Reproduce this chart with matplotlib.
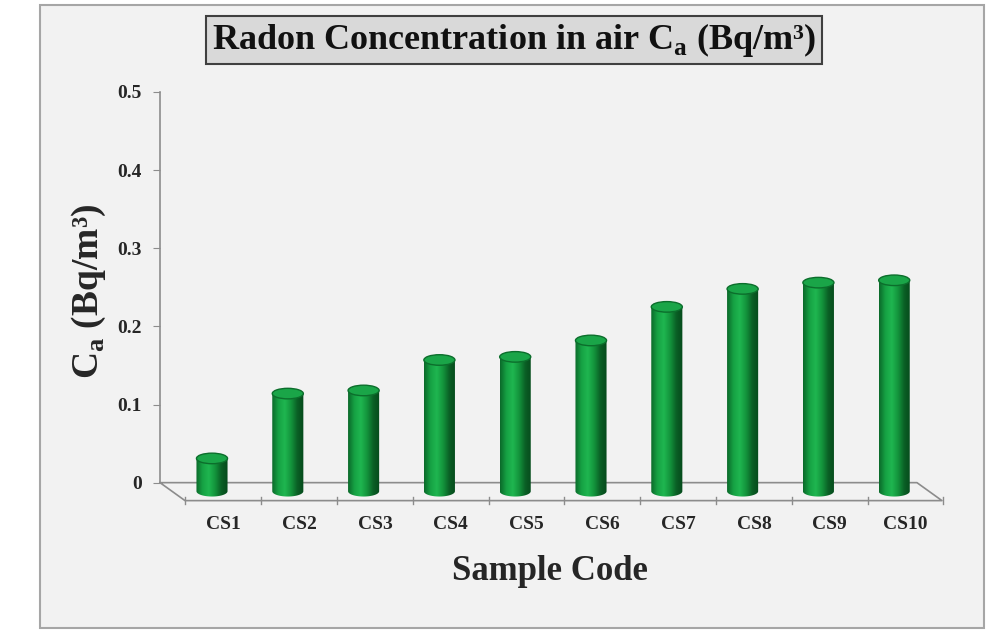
import numpy as np
import matplotlib
matplotlib.use('Agg')
import matplotlib.pyplot as plt
from matplotlib.patches import Ellipse, Rectangle, PathPatch
from matplotlib.path import Path
from matplotlib.colors import LinearSegmentedColormap

# Data
samples = ['CS1', 'CS2', 'CS3', 'CS4', 'CS5', 'CS6', 'CS7', 'CS8', 'CS9', 'CS10']
ca_values = [0.031, 0.114, 0.118, 0.157, 0.161, 0.182, 0.225, 0.248, 0.256, 0.259]
y_ticks = [0, 0.1, 0.2, 0.3, 0.4, 0.5]
y_tick_labels = ['0', '0.1', '0.2', '0.3', '0.4', '0.5']

plt.rcParams['font.family'] = ['Liberation Serif', 'DejaVu Serif']
plt.rcParams['font.weight'] = 'bold'
plt.rcParams['mathtext.fontset'] = 'custom'
plt.rcParams['mathtext.rm'] = 'Liberation Serif:bold'
plt.rcParams['mathtext.bf'] = 'Liberation Serif:bold'

fig = plt.figure(figsize=(9.96, 6.3), dpi=100)
fig.patch.set_facecolor('white')

# gray chart panel
fig.add_artist(Rectangle((40 / 996, 2 / 630), 944 / 996, 623 / 630,
                         transform=fig.transFigure, facecolor='#f2f2f2',
                         edgecolor='#a6a6a6', linewidth=1.5, zorder=0))

ax = fig.add_axes([160 / 996, 120 / 630, 785 / 996, 418 / 630])
ax.set_facecolor('none')
ax.set_xlim(-0.686, 9.67)
ax.set_ylim(-0.035, 0.5)

for s in ['top', 'right', 'bottom']:
    ax.spines[s].set_visible(False)
ax.spines['left'].set_bounds(0, 0.5)
ax.spines['left'].set_color('#8c8c8c')
ax.spines['left'].set_linewidth(1.2)
ax.set_yticks(y_ticks)
ax.set_yticklabels(y_tick_labels, fontsize=14, fontweight='bold', color='#262626')
ax.tick_params(axis='y', length=5, color='#8c8c8c', pad=8)
ax.set_xticks([])

# 3D floor
depth_y = 0.023
depth_x = 0.33
x_left = ax.get_xlim()[0]
x_back_right = 9.30
floor_x = [x_left, x_back_right, x_back_right + depth_x, x_left + depth_x, x_left]
floor_y = [0, 0, -depth_y, -depth_y, 0]
ax.plot(floor_x, floor_y, color='#8c8c8c', lw=1.2, zorder=1, clip_on=False)

n = len(samples)
tick_x = np.arange(n + 1) - 0.5 + 0.15
for tx in tick_x:
    ax.plot([tx, tx], [-depth_y - 0.004, -depth_y + 0.004], color='#8c8c8c', lw=1,
            zorder=1, clip_on=False)

# cylinders
green = LinearSegmentedColormap.from_list(
    'cyl', ['#0b6a2a', '#16a244', '#1fb650', '#13943c', '#0a5f25', '#064a1c'])
grad = np.linspace(0, 1, 64).reshape(1, -1)
bar_w = 0.41
eh = 0.0135
base = -0.011
t = np.linspace(np.pi, 2 * np.pi, 40)

for i, v in enumerate(ca_values):
    x0, x1 = i - bar_w / 2, i + bar_w / 2
    arc_x = i + bar_w / 2 * np.cos(t)
    arc_y = base + eh / 2 * np.sin(t)
    verts = [(x0, v)] + list(zip(arc_x, arc_y)) + [(x1, v), (x0, v)]
    codes = [Path.MOVETO] + [Path.LINETO] * (len(verts) - 2) + [Path.CLOSEPOLY]
    clip = PathPatch(Path(verts, codes), transform=ax.transData, facecolor='none',
                     edgecolor='none')
    ax.add_patch(clip)
    im = ax.imshow(grad, cmap=green, aspect='auto', extent=(x0, x1, base - eh, v),
                   zorder=3, interpolation='bilinear')
    im.set_clip_path(clip)
    ax.add_patch(Ellipse((i, v), bar_w, eh, facecolor='#1aa548', edgecolor='#0c6e2c',
                         linewidth=1, zorder=4))

ax.set_xlim(-0.686, 9.67)
ax.set_ylim(-0.035, 0.5)

for i, name in enumerate(samples):
    ax.text(i + 0.15, -0.043, name, ha='center', va='top', fontsize=14,
            fontweight='bold', color='#262626', clip_on=False)

fig.text(550 / 996, 1 - 572 / 630, 'Sample Code', ha='center', va='center',
         fontsize=25, fontweight='bold', color='#262626')
fig.text(89 / 996, 1 - 291 / 630, r'C$_{\mathbf{a}}$ (Bq/m³)', ha='center', va='center',
         rotation=90, fontsize=27, fontweight='bold', color='#262626')
fig.text(514 / 996, 1 - 40 / 630, r'Radon Concentration in air C$_{\mathbf{a}}$ (Bq/m³)',
         ha='center', va='center', fontsize=26, fontweight='bold', color='#111111',
         bbox=dict(boxstyle='square,pad=0.15', facecolor='#d9d9d9', edgecolor='#404040',
                   linewidth=1.5))

fig.savefig('out.png', dpi=100)
